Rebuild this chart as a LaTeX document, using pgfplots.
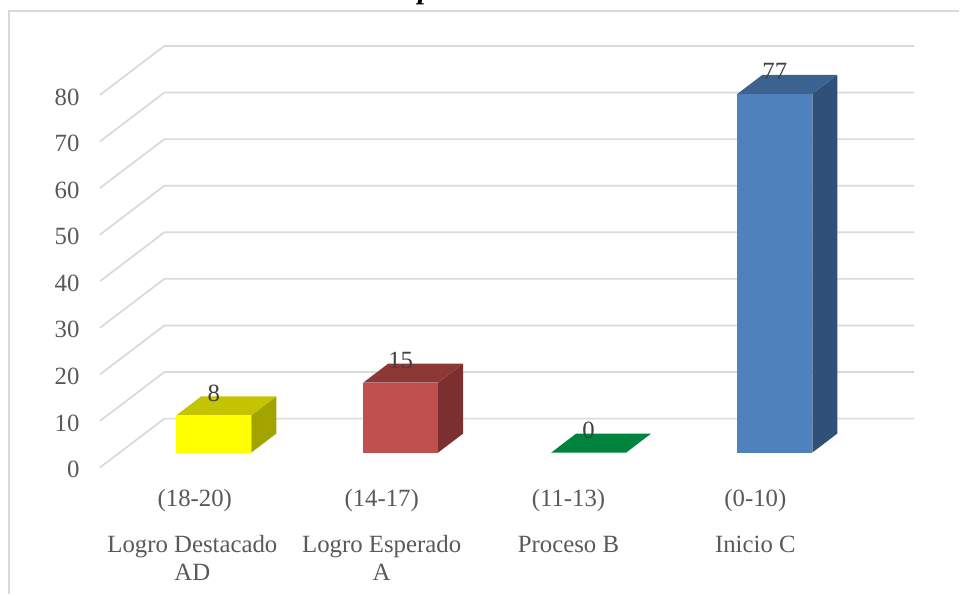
\documentclass[border=0pt]{standalone}
\usepackage{pgfplots}
\pgfplotsset{compat=1.18}
\usepackage{pgfplotstable}
\usepackage{fontspec}
\setmainfont{Liberation Serif}

\definecolor{txt}{HTML}{595959}
\definecolor{lab}{HTML}{404040}
\definecolor{wall}{HTML}{D9D9D9}
\definecolor{yfront}{HTML}{FFFF00}
\definecolor{ytop}{HTML}{C4C400}
\definecolor{yside}{HTML}{A3A300}
\definecolor{rfront}{HTML}{C0504D}
\definecolor{rtop}{HTML}{8E3836}
\definecolor{rside}{HTML}{7B2F2E}
\definecolor{gtop}{HTML}{00843D}
\definecolor{bfront}{HTML}{4F81BD}
\definecolor{btop}{HTML}{3C6290}
\definecolor{bside}{HTML}{2F5078}

% y runs in chart units, zero on the front edge of the bars
% the wall lines: front end, back end, right end for each tick
\pgfplotstableread{
x y
100 -3.22
164.5 7.29
915 7.29
nan nan
100 6.78
164.5 17.29
915 17.29
nan nan
100 16.78
164.5 27.29
915 27.29
nan nan
100 26.78
164.5 37.29
915 37.29
nan nan
100 36.78
164.5 47.29
915 47.29
nan nan
100 46.78
164.5 57.29
915 57.29
nan nan
100 56.78
164.5 67.29
915 67.29
nan nan
100 66.78
164.5 77.29
915 77.29
nan nan
100 76.78
164.5 87.29
915 87.29
}\walllines

\begin{document}
\begin{tikzpicture}
\begin{axis}[
  scale only axis, width=960pt, height=595pt,
  xmin=0, xmax=960, ymin=-30.46, ymax=97.16,
  clip=false,
  unbounded coords=jump,
  axis line style={draw=none},
  major tick style={draw=none},
  /pgf/number format/assume math mode=true,
  font=\fontsize{24.8}{29}\selectfont,
  ytick={-3.22,6.78,16.78,26.78,36.78,46.78,56.78,66.78,76.78},
  yticklabels={0,10,20,30,40,50,60,70,80},
  y tick label style={text=txt, anchor=east, xshift=83pt, yshift=-2pt},
  xtick={192.5,382,569,756},
  xticklabels={
    {\hspace*{5pt}(18-20)\\[17pt]Logro Destacado\\[-1pt]AD},
    {(14-17)\\[17pt]Logro Esperado\\[-1pt]A},
    {(11-13)\\[17pt]Proceso B},
    {(0-10)\\[17pt]Inicio C}},
  x tick label style={text=txt, anchor=north, align=center, yshift=108.5pt},
  nodes near coords style={text=lab, anchor=south, yshift=10.5pt, font=\fontsize{24.8}{29}\selectfont},
]
% frame of the chart area, open at the right
\addplot[wall, line width=1.7pt] coordinates {(9,-30.46) (9,94.86) (960,94.86)};
\addplot[wall, line width=1.7pt] table[x=x,y=y] {\walllines};

% side faces
\addplot[draw=none, fill=yside] coordinates {(251.5,0) (276.5,4.08) (276.5,12.08) (251.5,8)} -- cycle;
\addplot[draw=none, fill=rside] coordinates {(438.5,0) (463.5,4.08) (463.5,19.08) (438.5,15)} -- cycle;
\addplot[draw=none, fill=bside] coordinates {(813,0) (838,4.08) (838,81.08) (813,77)} -- cycle;
% top faces
\addplot[draw=none, fill=ytop] coordinates {(176.5,8) (251.5,8) (276.5,12.08) (201.5,12.08)} -- cycle;
\addplot[draw=none, fill=rtop] coordinates {(363.5,15) (438.5,15) (463.5,19.08) (388.5,19.08)} -- cycle;
\addplot[draw=none, fill=gtop] coordinates {(551.7,0) (626.7,0) (651.7,4.08) (576.7,4.08)} -- cycle;
\addplot[draw=none, fill=btop] coordinates {(738,77) (813,77) (838,81.08) (763,81.08)} -- cycle;
% front faces, with the values
\addplot[ybar, bar width=75, bar shift=0pt, draw=none, fill=yfront, nodes near coords] coordinates {(214,8)};
\addplot[ybar, bar width=75, bar shift=0pt, draw=none, fill=rfront, nodes near coords] coordinates {(401,15)};
\addplot[ybar, bar width=75, bar shift=0pt, draw=none, fill=none, nodes near coords] coordinates {(589,0)};
\addplot[ybar, bar width=75, bar shift=0pt, draw=none, fill=bfront, nodes near coords] coordinates {(775.5,77)};
% the title is cut off by the top edge of the picture
\node[overlay, anchor=base, font=\fontsize{30}{34}\selectfont\bfseries\itshape, text=black] at (axis cs:426,97.4) {p};
\end{axis}
\end{tikzpicture}
\end{document}
